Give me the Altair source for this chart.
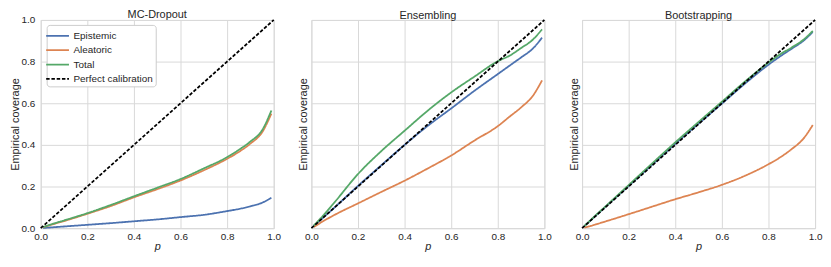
import altair as alt
import pandas as pd

P = [0.01, 0.05, 0.1, 0.2, 0.3, 0.4, 0.5, 0.6, 0.7, 0.8, 0.85, 0.9, 0.95, 0.99]
DIAG_P = [0.0, 1.0]
SERIES = ["Epistemic", "Aleatoric", "Total", "Perfect calibration"]
COLORS = ["#4C72B0", "#DD8452", "#55A868", "#000000"]
PANELS = ["MC-Dropout", "Ensembling", "Bootstrapping"]
TICKS = [0.0, 0.2, 0.4, 0.6, 0.8, 1.0]

mc_epi = [0.001, 0.004, 0.008, 0.016, 0.024, 0.033, 0.042, 0.053, 0.064, 0.082, 0.092, 0.105, 0.122, 0.146]
mc_ale = [0.004, 0.018, 0.034, 0.069, 0.106, 0.148, 0.187, 0.229, 0.278, 0.333, 0.366, 0.406, 0.46, 0.55]
mc_tot = [0.005, 0.02, 0.037, 0.072, 0.111, 0.153, 0.194, 0.236, 0.287, 0.341, 0.376, 0.416, 0.47, 0.565]

en_epi = [0.01, 0.05, 0.1, 0.203, 0.302, 0.4, 0.492, 0.575, 0.66, 0.74, 0.78, 0.82, 0.862, 0.915]
en_ale = [0.005, 0.033, 0.064, 0.119, 0.174, 0.228, 0.287, 0.349, 0.421, 0.49, 0.535, 0.58, 0.635, 0.71]
en_tot = [0.012, 0.06, 0.125, 0.26, 0.37, 0.468, 0.565, 0.652, 0.728, 0.802, 0.828, 0.865, 0.905, 0.955]

bs_epi = [0.01, 0.051, 0.102, 0.203, 0.304, 0.405, 0.502, 0.598, 0.695, 0.785, 0.825, 0.862, 0.9, 0.942]
bs_ale = [0.002, 0.015, 0.032, 0.067, 0.103, 0.139, 0.172, 0.208, 0.252, 0.307, 0.34, 0.38, 0.43, 0.495]
bs_tot = [0.01, 0.053, 0.104, 0.207, 0.31, 0.412, 0.51, 0.607, 0.705, 0.795, 0.835, 0.868, 0.905, 0.947]

DATA = [(mc_epi, mc_ale, mc_tot), (en_epi, en_ale, en_tot), (bs_epi, bs_ale, bs_tot)]

FONT = "Liberation Sans"
TXT = "#262626"
GRID = "#d9d9d9"


def panel(name, vals, first):
    rows = []
    for s, arr in zip(SERIES[:3], vals):
        for p, v in zip(P, arr):
            rows.append({"series": s, "p": p, "v": v})
    curves = pd.DataFrame(rows)
    diag = pd.DataFrame({"series": "Perfect calibration", "p": DIAG_P, "v": DIAG_P})

    if first:
        leg = alt.Legend(
            title=None, orient="none", legendX=6, legendY=5,
            symbolType="M-1.5,0L1.5,0", symbolSize=235, labelFontSize=10,
            labelFont=FONT, labelColor=TXT, rowPadding=0.5,
            fillColor="white", strokeColor="#cccccc", cornerRadius=3,
            padding=2, labelOffset=7,
        )
    else:
        leg = None

    color = alt.Color("series:N", scale=alt.Scale(domain=SERIES, range=COLORS), legend=leg)
    dash = alt.StrokeDash("series:N", scale=alt.Scale(domain=SERIES, range=[[1, 0], [1, 0], [1, 0], [3.5, 1.8]]), legend=leg)
    sw = alt.StrokeWidth("series:N", scale=alt.Scale(domain=SERIES, range=[1.8, 1.8, 1.8, 0.9]), legend=leg)

    x = alt.X("p:Q", scale=alt.Scale(domain=[0, 1], nice=False),
              axis=alt.Axis(values=TICKS, format=".1f", title="p", titleFontStyle="italic", labelFlush=False))
    if first:
        yax = alt.Axis(values=TICKS, format=".1f", title="Empirical coverage", labelPadding=6, titlePadding=1)
    else:
        yax = alt.Axis(values=TICKS, labels=False, title="Empirical coverage", titlePadding=3)
    y = alt.Y("v:Q", scale=alt.Scale(domain=[0, 1], nice=False), axis=yax)

    l1 = alt.Chart(curves).mark_line(interpolate="monotone").encode(x=x, y=y, color=color, strokeDash=dash, strokeWidth=sw)
    l2 = alt.Chart(diag).mark_line().encode(x=x, y=y, color=color, strokeDash=dash, strokeWidth=sw)
    return alt.layer(l1, l2).properties(
        width=235, height=210,
        title=alt.TitleParams(name, frame="group", offset=-5),
    )


charts = [panel(n, d, i == 0) for i, (n, d) in enumerate(zip(PANELS, DATA))]
chart = alt.hconcat(
    *charts, spacing=15, padding={"left": 0, "top": -1, "right": 0, "bottom": -2}
).resolve_scale(
    color="independent", strokeDash="independent", strokeWidth="independent"
).configure_view(stroke=GRID, strokeWidth=1).configure_axis(
    grid=True, gridColor=GRID, gridWidth=1, domain=False, ticks=False,
    labelFont=FONT, labelFontSize=10, labelColor=TXT, labelPadding=4,
    titleFont=FONT, titleFontSize=11, titleColor=TXT, titleFontWeight="normal",
).configure_axisX(titlePadding=0, labelPadding=3).configure_title(
    font=FONT, fontSize=11, color=TXT, fontWeight="normal"
)

chart.save("out.html", embed_options={"renderer": "svg", "actions": False})
